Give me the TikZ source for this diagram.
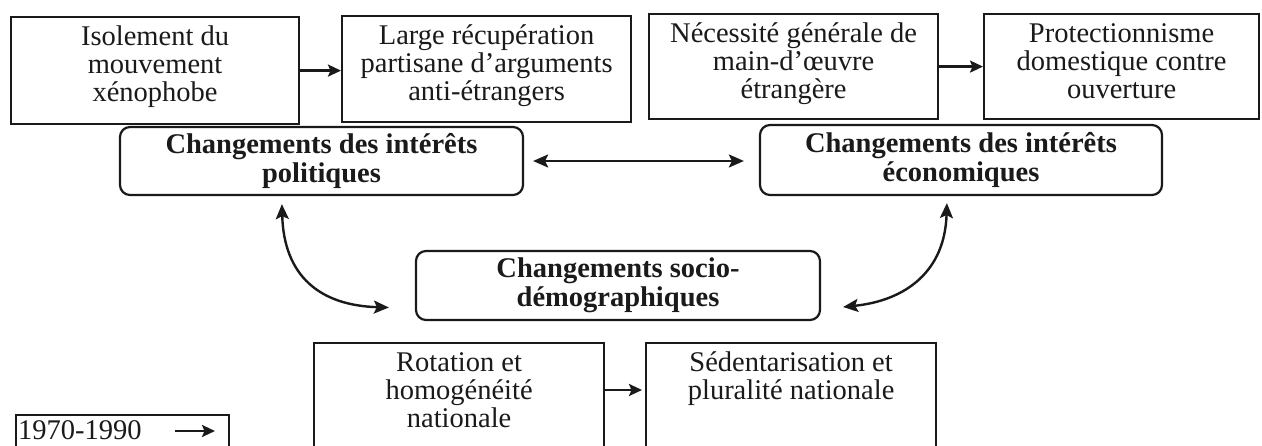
\documentclass[tikz,border=0pt]{standalone}
\usepackage{fontspec}
\setmainfont{Liberation Serif}
\usetikzlibrary{arrows.meta,calc}
\definecolor{ink}{HTML}{1A1A1A}
\lineskiplimit=-50pt
\newcommand{\bxtext}[3]{\parbox[c][#2][t]{#1}{\centering\rule{0pt}{28pt}#3}}
\begin{document}
\begin{tikzpicture}[x=1pt,y=-1pt,
  txt/.style={font=\fontsize{28.5}{28}\selectfont, text=ink},
  sq/.style={txt, draw=ink, line width=2.2pt, inner sep=0pt, anchor=north west},
  rb/.style={draw=ink, line width=2.2pt, rounded corners=10pt, align=center, text=ink,
     font=\fontsize{28.5}{29}\selectfont\bfseries, inner sep=0pt},
  arr/.style={draw=ink, line width=2.4pt, -{Stealth[length=13pt,width=12pt,inset=2.5pt]}},
  darr/.style={draw=ink, line width=2.4pt, {Stealth[length=15pt,width=13pt,inset=3pt]}-{Stealth[length=15pt,width=13pt,inset=3pt]}}]
\useasboundingbox (0,0) rectangle (1262,446);
\fill[white] (0,0) rectangle (1262,446);

% top row
\node[sq] (b1) at (10,16) {\bxtext{288pt}{107pt}{Isolement du\\mouvement\\xénophobe}};
\node[sq] (b2) at (341,15) {\bxtext{289pt}{106pt}{Large récupération\\partisane d’arguments\\anti-étrangers}};
\node[sq] (b3) at (648,13) {\bxtext{289pt}{105pt}{Nécessité générale de\\main-d’œuvre\\étrangère}};
\node[sq] (b4) at (983,13) {\bxtext{275pt}{105pt}{Protectionnisme\\domestique contre\\ouverture}};

% rounded boxes
\node[rb, minimum width=403pt, minimum height=68pt] (pol) at (321.5,161) {Changements des intérêts\\politiques};
\node[rb, minimum width=402pt, minimum height=70pt] (eco) at (961,160) {Changements des intérêts\\économiques};
\node[rb, minimum width=404pt, minimum height=69pt] (soc) at (618,285.5) {Changements socio-\\démographiques};

% bottom boxes
\node[sq] (rot) at (313,342) {\bxtext{290pt}{150pt}{Rotation et\\homogénéité\\nationale}};
\node[sq] (sed) at (645,342) {\bxtext{290pt}{150pt}{Sédentarisation et\\pluralité nationale}};

% legend
\node[sq] (leg) at (15,414) {\parbox[c][60pt][t]{213pt}{\rule{0pt}{24pt}\hspace{2pt}1970-1990}};
\coordinate (la) at ($(leg.north west)+(160,17)$);
\coordinate (lb) at ($(leg.north west)+(200,17)$);
\draw[arr, line width=2.2pt] (la) -- (lb);

% connectors
\draw[arr] (b1.east) -- (b1.east -| b2.west);
\draw[arr] (b3.east) -- (b3.east -| b4.west);
\draw[darr, shorten <=9pt, shorten >=15pt] (pol.east) -- (pol.east -| eco.west);
\draw[arr, shorten >=3pt] ([yshift=-48pt]rot.north east) -- ([yshift=-48pt]sed.north west);

\draw[darr] ($(pol.south west)+(163,8)$)
  .. controls ($(pol.south west)+(165,80)$) and ($(soc.west)+(-95,20)$) ..
  ($(soc.west)+(-26,22)$);
\draw[darr] ($(eco.south west)+(188,7)$)
  .. controls ($(eco.south west)+(186,75)$) and ($(soc.east)+(85,15)$) ..
  ($(soc.east)+(22,21.5)$);
\end{tikzpicture}
\end{document}
